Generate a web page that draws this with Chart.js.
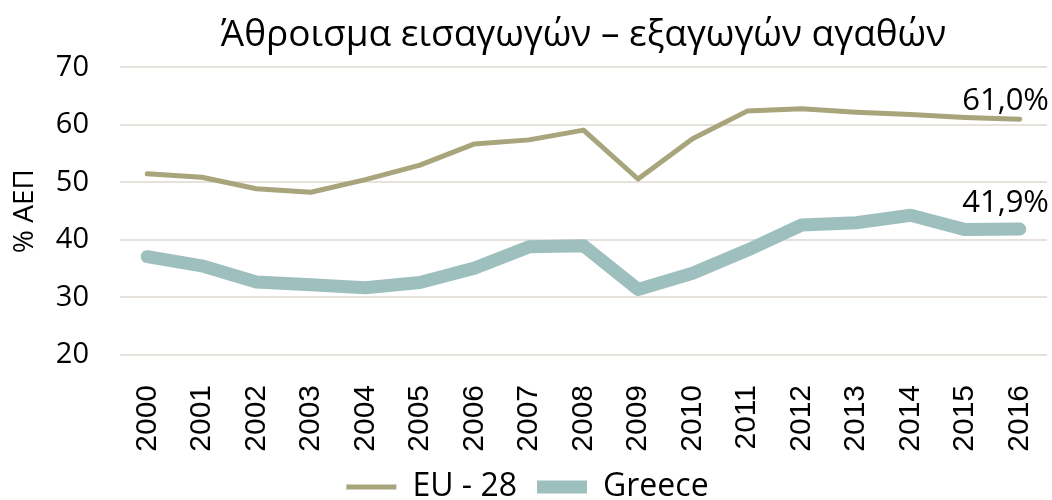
<!DOCTYPE html>
<html>
<head>
<meta charset="utf-8">
<script src="https://cdn.jsdelivr.net/npm/chart.js@4"></script>
<style>
  body { margin: 0; background: #fff; }
  .wrap { width: 1052px; height: 500px; }
</style>
</head>
<body>
<div class="wrap"><canvas id="chart" width="1052" height="500"></canvas></div>
<script>
// data
const years = ['2000', '2001', '2002', '2003', '2004', '2005', '2006', '2007', '2008',
    '2009', '2010', '2011', '2012', '2013', '2014', '2015', '2016'];
const eu28 = [51.5, 50.9, 48.9, 48.3, 50.5, 53.0, 56.7, 57.4, 59.1, 50.6, 57.6, 62.4, 62.8, 62.2, 61.8, 61.3, 61.0];
const greece = [37.1, 35.5, 32.7, 32.2, 31.7, 32.6, 35.1, 38.8, 39.0, 31.4, 34.2, 38.2, 42.6, 43.0, 44.3, 41.8, 41.9];
const seriesNames = ['EU - 28', 'Greece'];
const yTicks = [20, 30, 40, 50, 60, 70];

const font = '"Open Sans", sans-serif';

// label on last point of each line
const lastLabel = {
    id: 'lastLabel',
    afterDatasetsDraw(chart) {
        const ctx = chart.ctx;
        const lift = [18, 26];
        ctx.save();
        ctx.font = '31px ' + font;
        ctx.fillStyle = '#000';
        ctx.textAlign = 'right';
        ctx.textBaseline = 'middle';
        chart.data.datasets.forEach((ds, i) => {
            const pts = chart.getDatasetMeta(i).data;
            const p = pts[pts.length - 1];
            const v = ds.data[ds.data.length - 1];
            ctx.fillText(v.toFixed(1).replace('.', ',') + '%', 1049, p.y - lift[i]);
        });
        ctx.restore();
    }
};

const ctx = document.getElementById('chart').getContext('2d');
const chart = new Chart(ctx, {
    type: 'line',
    data: {
        labels: years,
        datasets: [
            {
                label: seriesNames[0],
                data: eu28,
                borderColor: '#A8A47C',
                backgroundColor: '#A8A47C',
                borderWidth: 5,
                borderCapStyle: 'round',
                borderJoinStyle: 'round',
                pointRadius: 0,
                tension: 0
            },
            {
                label: seriesNames[1],
                data: greece,
                borderColor: '#9DBFBD',
                backgroundColor: '#9DBFBD',
                borderWidth: 13,
                borderCapStyle: 'round',
                borderJoinStyle: 'round',
                pointRadius: 0,
                tension: 0
            }
        ]
    },
    options: {
        responsive: false,
        animation: false,
        layout: { padding: { top: 13, left: 8, right: 5, bottom: -13 } },
        plugins: {
            title: {
                display: true,
                fullSize: false,
                text: 'Άθροισμα εισαγωγών – εξαγωγών αγαθών',
                color: '#000',
                font: { family: font, size: 37, weight: 'normal' },
                padding: { top: 0, bottom: 10 }
            },
            legend: {
                position: 'bottom',
                labels: {
                    color: '#000',
                    font: { family: font, size: 32 },
                    usePointStyle: true,
                    pointStyle: 'line',
                    pointStyleWidth: 50,
                    boxHeight: 20,
                    padding: 20
                }
            },
            tooltip: { enabled: false }
        },
        scales: {
            x: {
                offset: true,
                grid: { display: false },
                border: { display: false },
                ticks: {
                    color: '#000',
                    font: { family: '"Liberation Sans", Arial, sans-serif', size: 30 },
                    minRotation: 90,
                    maxRotation: 90,
                    padding: 22
                },
                afterFit(scale) {
                    scale.height = 96;
                    scale.paddingLeft = 0;
                    scale.paddingRight = 0;
                }
            },
            y: {
                min: 20,
                max: 70,
                afterBuildTicks(scale) { scale.ticks = yTicks.map(v => ({ value: v })); },
                grid: { color: '#E6E1DA', lineWidth: 2, drawTicks: false },
                border: { display: false },
                ticks: {
                    color: '#000',
                    font: { family: font, size: 29 },
                    padding: 31
                },
                title: {
                    display: true,
                    text: '% ΑΕΠ',
                    color: '#000',
                    font: { family: font, size: 28 },
                    padding: { top: 0, bottom: 2 }
                },
                afterFit(scale) { scale.width = 112; }
            }
        }
    },
    plugins: [lastLabel]
});
</script>
</body>
</html>
